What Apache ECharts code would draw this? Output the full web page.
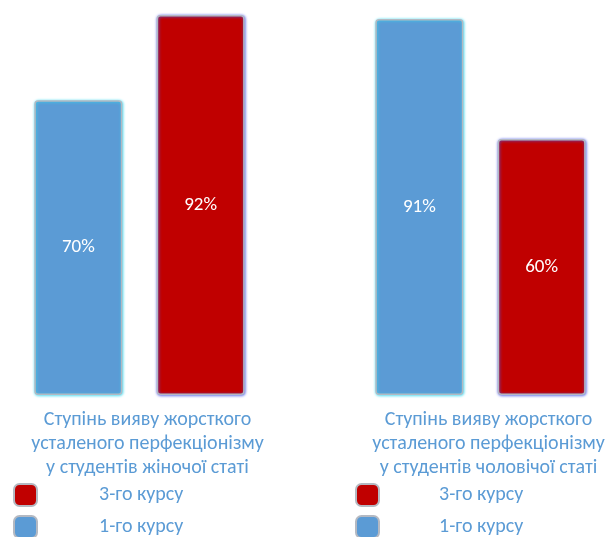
<!DOCTYPE html>
<html>
<head>
<meta charset="utf-8">
<style>
  html, body { margin: 0; padding: 0; background: #ffffff; }
  #chart { width: 610px; height: 537px; }
</style>
<script src="https://cdn.jsdelivr.net/npm/echarts@6/dist/echarts.min.js"></script>
</head>
<body>
<div id="chart"></div>
<script>
// ---- data ----
const categories = [
  'Ступінь вияву жорсткого\nусталеного перфекціонізму\nу студентів жіночої статі',
  'Ступінь вияву жорсткого\nусталеного перфекціонізму\nу студентів чоловічої статі'
];
const legendNames = ['3-го курсу', '1-го курсу'];
const firstYear = [70, 91];   // 1-го курсу
const thirdYear = [92, 60];   // 3-го курсу

// ---- styles ----
const FONT = 'Carlito, Calibri, "Liberation Sans Narrow", sans-serif';
const BLUE = '#5b9bd5';
const RED = '#c00000';
const TEXT = '#5b9bd5';

const chart = echarts.init(document.getElementById('chart'), null, { renderer: 'canvas' });

const gridDefs = [
  { left: 30, width: 219, top: 15, height: 380 },
  { left: 371, width: 219, top: 15, height: 380 }
];

const xAxes = categories.map((c, i) => ({
  type: 'category',
  gridIndex: i,
  data: [c],
  axisLine: { show: false },
  axisTick: { show: false },
  axisLabel: {
    color: TEXT, fontFamily: FONT, fontSize: 20, lineHeight: 24,
    margin: 13, padding: [0, 0, 0, 16], interval: 0
  }
}));
const yAxes = categories.map((c, i) => ({
  type: 'value', gridIndex: i, min: -6, max: 92, startValue: -6,
  show: false, splitLine: { show: false }
}));

function barSeries(name, value, idx, color, glow) {
  return {
    type: 'bar', name: name, xAxisIndex: idx, yAxisIndex: idx,
    data: [value], barWidth: 88, barGap: '39%',
    itemStyle: {
      color: color, borderColor: '#b4b9c2', borderWidth: 1.5, borderRadius: 3,
      shadowColor: glow, shadowBlur: 3, shadowOffsetX: 0.5, shadowOffsetY: 0.5
    },
    label: {
      show: true, position: 'inside', color: '#ffffff',
      fontFamily: FONT, fontSize: 19, formatter: '{c}%'
    }
  };
}

const series = [];
categories.forEach((c, i) => {
  series.push(barSeries(legendNames[1], firstYear[i], i, BLUE, '#35d6ee'));
  series.push(barSeries(legendNames[0], thirdYear[i], i, RED, '#4a5ae8'));
});

function legend(left, gap) {
  return {
    orient: 'vertical', left: left, top: 483, width: 220, height: 80, padding: 0,
    data: legendNames, itemWidth: 23, itemHeight: 22, itemGap: 8,
    selectedMode: false,
    textStyle: { color: TEXT, fontFamily: FONT, fontSize: 20, lineHeight: 22, padding: [0, 0, 0, gap] }
  };
}

chart.setOption({
  animation: false,
  backgroundColor: '#ffffff',
  grid: gridDefs,
  xAxis: xAxes,
  yAxis: yAxes,
  legend: [legend(13, 57), legend(355, 55)],
  series: series
});
</script>
</body>
</html>
